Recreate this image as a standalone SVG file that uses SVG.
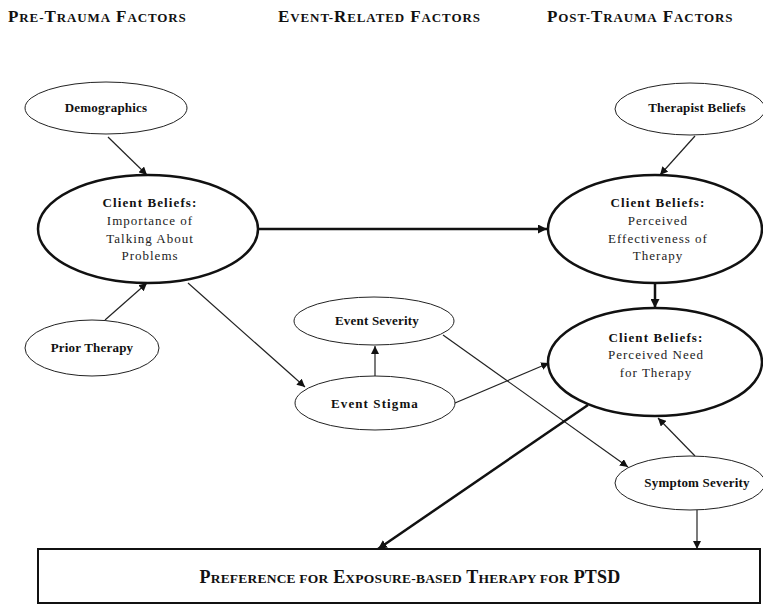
<svg xmlns="http://www.w3.org/2000/svg" width="763" height="604" viewBox="0 0 763 604">
<defs>
<style>
.hdr{font-family:"Liberation Serif","Times New Roman",serif;font-weight:bold;font-size:17px;fill:#111;letter-spacing:0.9px;}
.hdr .s{font-size:13px;}
.pref{font-family:"Liberation Serif","Times New Roman",serif;font-weight:bold;font-size:18px;fill:#111;letter-spacing:0.2px;text-anchor:middle;}
.pref .s{font-size:13.5px;}
.lbl{font-family:"Liberation Serif","Times New Roman",serif;font-weight:bold;font-size:13px;fill:#111;text-anchor:middle;letter-spacing:0.2px;}
.b{font-family:"Liberation Serif","Times New Roman",serif;font-weight:bold;font-size:13px;fill:#111;text-anchor:middle;letter-spacing:1.1px;}
.r{font-family:"Liberation Serif","Times New Roman",serif;font-size:13px;fill:#222;text-anchor:middle;letter-spacing:1px;}
.thin{fill:#fff;stroke:#222;stroke-width:1;}
.thick{fill:#fff;stroke:#111;stroke-width:2.5;}
.ln{stroke:#222;stroke-width:1.2;fill:none;marker-end:url(#ah);}
.lnb{stroke:#111;stroke-width:2.5;fill:none;marker-end:url(#ahb);}
</style>
<marker id="ah" viewBox="0 0 10 10" refX="10" refY="5" markerWidth="8" markerHeight="8" markerUnits="userSpaceOnUse" orient="auto"><path d="M0,0 L10,5 L0,10 z" fill="#111"/></marker>
<marker id="ahb" viewBox="0 0 10 10" refX="10" refY="5" markerWidth="9" markerHeight="9" markerUnits="userSpaceOnUse" orient="auto"><path d="M0,0 L10,5 L0,10 z" fill="#111"/></marker>
</defs>
<rect width="763" height="604" fill="#fff"/>
<g id="headers">
<text class="hdr" x="8" y="22">P<tspan class="s">RE-</tspan>T<tspan class="s">RAUMA</tspan> F<tspan class="s">ACTORS</tspan></text>
<text class="hdr" x="278" y="22">E<tspan class="s">VENT-</tspan>R<tspan class="s">ELATED</tspan> F<tspan class="s">ACTORS</tspan></text>
<text class="hdr" x="547" y="22">P<tspan class="s">OST-</tspan>T<tspan class="s">RAUMA</tspan> F<tspan class="s">ACTORS</tspan></text>
</g>
<g id="connectors">
<line class="ln" x1="108" y1="137" x2="147" y2="175"/>
<line class="ln" x1="105" y1="320" x2="147" y2="283"/>
<line class="lnb" x1="258" y1="229" x2="547" y2="229"/>
<line class="ln" x1="188" y1="283" x2="305" y2="387"/>
<line class="ln" x1="375" y1="376" x2="375" y2="346"/>
<line class="ln" x1="455" y1="403" x2="549" y2="363"/>
<line class="ln" x1="443" y1="335" x2="628" y2="467"/>
<line class="ln" x1="695" y1="136" x2="660" y2="175"/>
<line class="lnb" x1="655" y1="283" x2="655" y2="308"/>
<line class="ln" x1="695" y1="456" x2="658" y2="418"/>
<line class="lnb" x1="588" y1="405" x2="378" y2="549"/>
<line class="ln" x1="697" y1="510" x2="697" y2="549"/>
</g>
<g id="demographics">
<ellipse class="thin" cx="106" cy="108" rx="81" ry="26"/>
<text class="lbl" x="106" y="112">Demographics</text>
</g>
<g id="client-beliefs-talking">
<ellipse class="thick" cx="148" cy="229" rx="110" ry="54"/>
<text class="b" x="150" y="207">Client Beliefs:</text>
<text class="r" x="150" y="225">Importance of</text>
<text class="r" x="150" y="243">Talking About</text>
<text class="r" x="150" y="260">Problems</text>
</g>
<g id="prior-therapy">
<ellipse class="thin" cx="92" cy="348" rx="67" ry="28"/>
<text class="lbl" x="92" y="352">Prior Therapy</text>
</g>
<g id="therapist-beliefs">
<ellipse class="thin" cx="690" cy="109" rx="75" ry="26"/>
<text class="lbl" x="697" y="112">Therapist Beliefs</text>
</g>
<g id="client-beliefs-effectiveness">
<ellipse class="thick" cx="655" cy="229" rx="107" ry="54"/>
<text class="b" x="658" y="207">Client Beliefs:</text>
<text class="r" x="658" y="225">Perceived</text>
<text class="r" x="658" y="243">Effectiveness of</text>
<text class="r" x="658" y="260">Therapy</text>
</g>
<g id="client-beliefs-need">
<ellipse class="thick" cx="655" cy="362" rx="107" ry="54"/>
<text class="b" x="656" y="342">Client Beliefs:</text>
<text class="r" x="656" y="359">Perceived Need</text>
<text class="r" x="656" y="377">for Therapy</text>
</g>
<g id="event-severity">
<ellipse class="thin" cx="374" cy="321" rx="80" ry="24"/>
<text class="lbl" x="377" y="325">Event Severity</text>
</g>
<g id="event-stigma">
<ellipse class="thin" cx="375" cy="403" rx="80" ry="27"/>
<text class="b" x="375" y="408">Event Stigma</text>
</g>
<g id="symptom-severity">
<ellipse class="thin" cx="690" cy="483" rx="75" ry="27"/>
<text class="lbl" x="697" y="487">Symptom Severity</text>
</g>
<g id="preference">
<rect x="38" y="549" width="722" height="54" fill="#fff" stroke="#111" stroke-width="2"/>
<text class="pref" x="410" y="583">P<tspan class="s">REFERENCE FOR</tspan> E<tspan class="s">XPOSURE-BASED</tspan> T<tspan class="s">HERAPY FOR</tspan> PTSD</text>
</g>
</svg>
